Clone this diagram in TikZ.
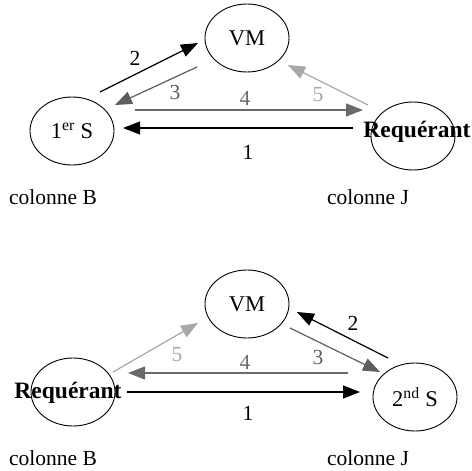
\documentclass[tikz,border=0pt]{standalone}
\usepackage{fontspec}
\setmainfont{Liberation Serif}
\usetikzlibrary{shapes.geometric,arrows.meta,calc}
\definecolor{gA}{HTML}{5E5E5E}
\definecolor{gB}{HTML}{6A6A6A}
\definecolor{gC}{HTML}{A8A8A8}
\begin{document}
\begin{tikzpicture}[x=1pt,y=-1pt,
  ell/.style={draw,ellipse,minimum width=84pt,minimum height=68pt,inner sep=0pt,line width=0.9pt,font=\fontsize{22.5}{26}\selectfont},
  txt/.style={font=\fontsize{21.5}{25}\selectfont,inner sep=0pt},
  rqs/.style={font=\fontsize{23.5}{27}\selectfont\bfseries,inner sep=0pt},
  arr/.style={line width=1.2pt,-{Triangle[length=17pt,width=13pt]}},
  cK/.style={draw=black,fill=black},
  cA/.style={draw=gA,fill=gA},
  cB/.style={draw=gB,fill=gB},
  cC/.style={draw=gC,fill=gC}]
\useasboundingbox (0,0) rectangle (472,471);
% top diagram
\node[ell] (vm) at (247,38) {VM};
\node[ell] (s1) at (72,131) {1\textsuperscript{er} S};
\node[ell] (rq) at (413,136) {};
\node[rqs] (rqt) at (417,132) {Requérant};
\draw[arr,cK] ($(s1)+(28,-39)$) -- ($(vm)+(-49,5)$);
\draw[arr,cA] ($(vm)+(-50,29)$) -- ($(s1)+(43,-26)$);
\draw[arr,cB] ($(s1)+(63,-21)$) -- ($(rq)+(-50,-26)$);
\draw[arr,cC] ($(rq)+(-45,-31)$) -- ($(vm)+(41,27)$);
\draw[arr,cK] ($(rq)+(-60,-8)$) -- ($(s1)+(51,-3)$);
\node[txt] (l2) at (135,58) {2};
\node[txt,text=gA] (l3) at (175,92) {3};
\node[txt,text=gB] (l4) at (245,98) {4};
\node[txt,text=gC] (l5) at (318,95) {5};
\node[txt] (l1) at (248,152) {1};
\node[txt] (cb1) at (53,197) {colonne B};
\node[txt] (cj1) at (368,197) {colonne J};
% bottom diagram
\node[ell] (vm2) at (247,304) {VM};
\node[ell] (rq2) at (73,392) {};
\node[rqs] (rq2t) at (68,393) {Requérant};
\node[ell] (s2) at (415,397) {2\textsuperscript{nd} S};
\draw[arr,cC] ($(rq2)+(40,-20)$) -- ($(vm2)+(-49,19)$);
\draw[arr,cB] ($(s2)+(-67,-24)$) -- ($(rq2)+(55,-19)$);
\draw[arr,cA] ($(vm2)+(43,24)$) -- ($(s2)+(-35,-25)$);
\draw[arr,cK] ($(s2)+(-27,-39)$) -- ($(vm2)+(50,8)$);
\draw[arr,cK] ($(rq2)+(54,0)$) -- ($(s2)+(-55,-5)$);
\node[txt,text=gC] (m5) at (177,355) {5};
\node[txt,text=gB] (m4) at (245,362) {4};
\node[txt,text=gA] (m3) at (318,357) {3};
\node[txt] (m2) at (353,323) {2};
\node[txt] (m1) at (248,413) {1};
\node[txt] (cb2) at (53,458) {colonne B};
\node[txt] (cj2) at (368,458) {colonne J};
\end{tikzpicture}
\end{document}
